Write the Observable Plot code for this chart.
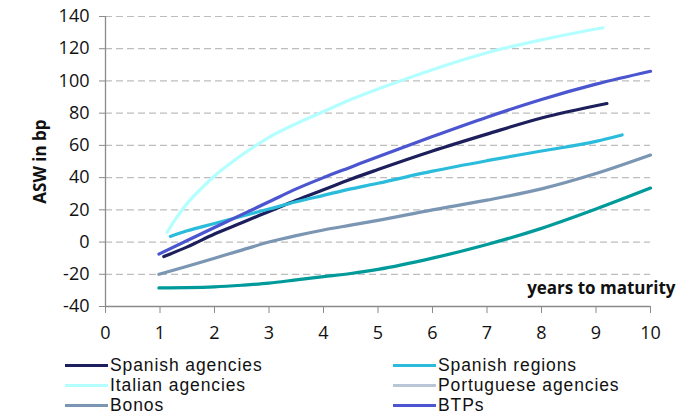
<!DOCTYPE html>
<html>
<head>
<meta charset="utf-8">
<script src="https://cdn.jsdelivr.net/npm/d3@7"></script>
<script src="https://cdn.jsdelivr.net/npm/@observablehq/plot@0.6"></script>
<style>
  html, body { margin: 0; padding: 0; background: #fff; }
  #chart { width: 699px; font-family: "Open Sans", sans-serif; }
  .legend { display: grid; grid-template-columns: 328px auto; padding-left: 65px; margin-top: 10px; }
  .item { display: flex; align-items: center; height: 20px; line-height: 20px; font-family: "Liberation Sans", Arial, sans-serif; font-size: 17.5px; letter-spacing: 0.9px; color: #111; white-space: nowrap; }
  .sw { width: 43px; height: 3px; margin-right: 2px; flex: none; }
</style>
</head>
<body>
<div id="chart"></div>
<script>
// ---- data ----
const seriesNames = ["Spanish agencies", "Spanish regions", "Italian agencies", "Portuguese agencies", "Bonos", "BTPs"];
const lineColors   = ["#1c1f5c", "#2bbcdc", "#b3ffff", "#009a9a", "#7a96b3", "#4a55cf"];
const legendColors = ["#1c1f5c", "#2bbcdc", "#b3ffff", "#b8c6d6", "#7a96b3", "#4a55cf"];

const spanishAgenciesYears = [1.07, 1.5, 2, 2.5, 3, 3.5, 4, 4.5, 5, 6, 7, 8, 9.2];
const spanishAgenciesASW   = [-9, -3, 5, 12, 19, 26, 32.5, 39, 45, 56.5, 67, 77, 86];

const spanishRegionsYears = [1.19, 1.5, 2, 2.5, 3, 3.5, 4, 4.5, 5, 6, 7, 8, 9, 9.48];
const spanishRegionsASW   = [3.5, 7, 11.5, 16, 20.5, 25, 29, 33, 36.5, 44, 50.5, 56.5, 62.5, 66.5];

const italianAgenciesYears = [1.13, 1.3, 1.5, 1.75, 2, 2.5, 3, 3.5, 4, 4.5, 5, 6, 7, 8, 9.13];
const italianAgenciesASW   = [6, 15, 24, 33, 41, 54, 65, 73.5, 81, 88.5, 95, 107, 117.5, 125.5, 133];

const portugueseAgenciesYears = [0.98, 1.5, 2, 2.5, 3, 3.5, 4, 4.5, 5, 6, 7, 8, 9, 10];
const portugueseAgenciesASW   = [-28.5, -28.3, -27.8, -26.8, -25.5, -23.5, -21.5, -19.5, -17, -10, -1.5, 8.5, 20.5, 33.5];

const bonosYears = [0.98, 1.5, 2, 2.5, 3, 3.5, 4, 4.5, 5, 6, 7, 8, 9, 10];
const bonosASW   = [-20, -15, -10, -5, 0, 4, 7.5, 10.5, 13.5, 20, 26, 33, 42.5, 54];

const btpsYears = [0.98, 1.5, 2, 2.5, 3, 3.5, 4, 4.5, 5, 6, 7, 8, 9, 10];
const btpsASW   = [-7.5, 1, 9, 17, 25, 33, 40, 46.5, 53, 65.5, 77.5, 88.5, 98, 106];

const xTicks = [0, 1, 2, 3, 4, 5, 6, 7, 8, 9, 10];
const yTicks = [-40, -20, 0, 20, 40, 60, 80, 100, 120, 140];
const gridValues = [-20, 0, 20, 40, 60, 80, 100, 120, 140];

// ---- build table ----
const yearsList = [spanishAgenciesYears, spanishRegionsYears, italianAgenciesYears, portugueseAgenciesYears, bonosYears, btpsYears];
const aswList   = [spanishAgenciesASW, spanishRegionsASW, italianAgenciesASW, portugueseAgenciesASW, bonosASW, btpsASW];
const rows = [];
seriesNames.forEach((name, i) => {
  yearsList[i].forEach((yr, j) => rows.push({series: name, years: yr, asw: aswList[i][j]}));
});

const chart = Plot.plot({
  width: 699,
  height: 345,
  marginLeft: 105,
  marginRight: 49,
  marginTop: 16,
  marginBottom: 39,
  style: {fontFamily: "Open Sans, sans-serif", fontSize: "18px", color: "#111", background: "#fff"},
  x: {domain: [0, 10]},
  y: {domain: [-40, 140]},
  color: {domain: seriesNames, range: lineColors},
  marks: [
    Plot.ruleY(gridValues, {x1: 0, x2: 10, stroke: "#bdbdbd", strokeWidth: 1.2, strokeDasharray: "7,4"}),
    Plot.axisX({ticks: xTicks, tickSize: 7, tickPadding: 13, stroke: "#8a8a8a", tickFormat: d => String(d), label: null, fill: "#111"}),
    Plot.axisY({ticks: yTicks, tickSize: 6, tickPadding: 10, stroke: "#8a8a8a", tickFormat: d => String(d), label: "ASW in bp", labelAnchor: "center", labelOffset: 72, labelArrow: "none", fill: "#111"}),
    Plot.ruleX([0], {stroke: "#8a8a8a", strokeWidth: 1.3}),
    Plot.ruleY([-40], {stroke: "#8a8a8a", strokeWidth: 1.3}),
    Plot.line(rows, {x: "years", y: "asw", z: "series", stroke: "series", strokeWidth: 3.2, curve: "monotone-x"}),
    Plot.text(["years to maturity"], {frameAnchor: "bottom-right", text: d => d, textAnchor: "end", dx: 25, dy: -13, fontWeight: "bold", fontSize: 17, fill: "#111"})
  ]
});
// bold y-axis label
chart.querySelectorAll("text").forEach(t => { if (t.textContent.trim() === "ASW in bp") { t.setAttribute("font-weight", "bold"); t.setAttribute("font-size", "17"); } });
document.getElementById("chart").appendChild(chart);

// legend (HTML, below the SVG)
const legend = document.createElement("div");
legend.className = "legend";
seriesNames.forEach((name, i) => {
  const item = document.createElement("div");
  item.className = "item";
  const sw = document.createElement("span");
  sw.className = "sw";
  sw.style.background = legendColors[i];
  item.appendChild(sw);
  item.appendChild(document.createTextNode(name));
  legend.appendChild(item);
});
document.getElementById("chart").appendChild(legend);
</script>
</body>
</html>
